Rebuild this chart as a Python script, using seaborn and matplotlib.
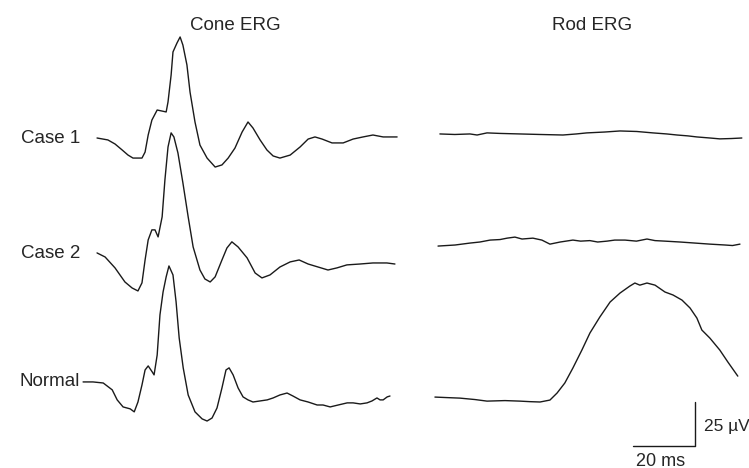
import numpy as np
import matplotlib
matplotlib.use("Agg")
import matplotlib.pyplot as plt
import seaborn as sns

sns.set_theme(style="white")
plt.rcParams['font.family'] = ['Liberation Sans', 'DejaVu Sans']

# ---- data (time in ms from trace start, amplitude in µV relative to baseline) ----
cone_case1_t = [0, 3.5, 5.8, 8.1, 10.0, 11.6, 14.5, 15.5, 16.5, 17.7, 19.4, 21.0, 22.3, 22.9, 23.9, 24.5,
                25.8, 26.8, 27.7, 29.0, 30.0, 31.6, 33.2, 35.5, 38.1, 40.3, 42.3, 44.5, 46.8, 48.7, 50.3,
                52.6, 54.8, 56.8, 59.0, 62.3, 65.5, 68.1, 70.3, 72.6, 75.8, 79.4, 82.6, 85.8, 89.0, 92.3, 96.8]
cone_case1_v = [0, -1.1, -3.4, -6.8, -9.7, -11.4, -11.4, -8.0, 1.7, 10.2, 15.9, 15.3, 14.8, 20.5, 35.8, 48.9,
                54.0, 57.4, 52.8, 41.5, 26.1, 9.1, -4.0, -11.4, -16.5, -15.3, -11.4, -5.7, 3.4, 9.1, 5.7,
                -1.1, -6.8, -10.2, -11.4, -9.7, -5.1, -0.6, 0.6, -0.6, -2.8, -2.8, -0.6, 0.6, 1.7, 0.6, 0.6]

cone_case2_t = [0, 2.6, 5.8, 9.0, 11.3, 13.2, 14.5, 15.5, 16.5, 17.7, 18.7, 19.7, 21.0, 21.9, 22.9, 23.9,
                24.8, 26.1, 27.7, 29.4, 31.0, 33.2, 34.8, 36.5, 38.1, 40.3, 41.9, 43.5, 45.5, 48.4, 51.0,
                53.2, 55.8, 59.0, 62.3, 65.2, 68.1, 71.3, 74.5, 77.4, 80.6, 84.8, 89.0, 93.5, 96.1]
cone_case2_v = [0, -2.3, -8.5, -16.5, -19.9, -21.6, -17.0, -4.0, 7.4, 13.1, 13.1, 9.1, 20.5, 41.5, 60.2, 68.2,
                65.9, 56.8, 39.8, 20.5, 3.4, -9.7, -14.8, -16.5, -13.6, -4.0, 2.8, 6.3, 3.4, -2.8, -11.4,
                -14.2, -12.5, -8.0, -5.1, -4.0, -6.3, -8.0, -9.7, -8.5, -6.8, -6.3, -5.7, -5.7, -6.3]

cone_normal_t = [0, 3.2, 6.5, 9.4, 11.0, 12.9, 15.2, 16.5, 17.7, 19.0, 20.0, 21.0, 22.3, 22.9, 23.9, 24.8,
                 25.8, 26.8, 27.7, 29.0, 30.0, 31.0, 32.3, 33.9, 36.1, 38.4, 40.0, 41.6, 43.2, 44.8, 46.1,
                 47.1, 48.4, 50.0, 51.6, 53.2, 54.8, 57.1, 59.4, 61.3, 63.5, 65.8, 67.7, 70.0, 72.6, 75.5,
                 77.4, 79.7, 82.3, 85.2, 87.1, 89.4, 91.6, 93.2, 94.8, 95.8, 96.8, 98.1, 99.0]
cone_normal_v = [0, 0, -0.6, -4.5, -10.2, -14.2, -15.3, -17.0, -11.4, -1.7, 6.8, 9.1, 5.7, 4.0, 15.3, 38.1,
                 51.1, 59.7, 65.9, 60.8, 45.5, 25.0, 8.0, -7.4, -17.0, -21.0, -22.2, -20.5, -14.8, -3.4, 6.8,
                 8.0, 4.0, -3.4, -8.5, -10.2, -11.4, -10.8, -10.2, -9.1, -7.4, -6.3, -8.0, -10.2, -11.4, -13.1,
                 -13.1, -14.2, -13.1, -11.9, -11.9, -12.5, -11.9, -10.8, -9.1, -10.2, -10.2, -8.5, -8.0]

rod_case1_t = [0, 4.8, 9.7, 12.0, 15.2, 19.4, 25.8, 32.3, 39.7, 44.0, 47.4, 53.2, 58.1, 63.5, 68.7, 73.2,
               76.5, 80.0, 82.9, 87.1, 90.3, 94.0, 97.4]
rod_case1_v = [0, -0.3, 0, -0.6, 0.6, 0.3, 0, -0.3, -0.6, 0, 0.6, 1.1, 1.7, 1.4, 0.6, 0, -0.6, -1.1, -1.7,
               -2.3, -2.8, -2.6, -2.3]

rod_case2_t = [0, 5.5, 10.3, 13.5, 16.8, 20.0, 22.3, 24.8, 27.1, 30.6, 33.5, 36.1, 39.4, 43.5, 46.0, 49.0,
               51.5, 54.5, 57.0, 60.3, 64.0, 67.4, 70.0, 73.2, 78.1, 82.9, 87.7, 92.6, 95.0, 97.4]
rod_case2_v = [0, 0.6, 1.7, 2.3, 3.4, 3.7, 4.5, 5.1, 4.0, 4.5, 3.4, 1.1, 2.3, 3.4, 2.8, 3.1, 2.3, 2.8, 3.4,
               3.4, 2.8, 4.0, 3.1, 2.8, 2.3, 1.7, 1.1, 0.6, 0.3, 1.1]

rod_normal_t = [0, 3.9, 8.1, 12.9, 16.8, 22.6, 27.4, 30.6, 33.9, 37.1, 39.4, 41.9, 44.5, 47.4, 50.0, 53.2,
                56.5, 59.7, 62.9, 64.5, 66.1, 68.4, 71.0, 74.2, 76.8, 79.7, 82.3, 84.5, 86.1, 88.7, 91.9,
                94.5, 97.7]
rod_normal_v = [0, -0.3, -0.6, -1.4, -2.3, -2.0, -2.3, -2.6, -2.8, -1.7, 2.3, 8.0, 16.5, 26.7, 36.4, 45.5,
                54.0, 59.1, 63.1, 64.8, 63.6, 64.8, 63.6, 59.7, 58.0, 55.1, 50.6, 44.9, 38.1, 33.5, 26.7,
                19.9, 11.9]

row_labels = ["Case 1", "Case 2", "Normal"]
titles = ["Cone ERG", "Rod ERG"]
scale_ms = 20
scale_uv = 25

# ---- layout ----
PX_PER_MS = 3.1
PX_PER_UV = 1.76
W, H = 749, 468

fig = plt.figure(figsize=(W / 100, H / 100), dpi=100)
ax = fig.add_axes([0, 0, 1, 1])
ax.set_xlim(0, W / PX_PER_MS)
ax.set_ylim(0, H / PX_PER_UV)
ax.axis("off")

traces = [
    (cone_case1_t, cone_case1_v, 31.3, 187.5),
    (cone_case2_t, cone_case2_v, 31.3, 122.2),
    (cone_normal_t, cone_normal_v, 26.8, 48.9),
    (rod_case1_t, rod_case1_v, 141.9, 189.8),
    (rod_case2_t, rod_case2_v, 141.3, 126.1),
    (rod_normal_t, rod_normal_v, 140.3, 40.3),
]
for t, v, ox, oy in traces:
    sns.lineplot(x=np.array(t) + ox, y=np.array(v) + oy, sort=False, estimator=None,
                 color="#1a1a1a", lw=1.0, ax=ax)

# scale bar
cx, cy = 224.2, 12.5
ax.plot([cx - scale_ms, cx, cx], [cy, cy, cy + scale_uv], color="#1a1a1a", lw=1.0)

fs = 13.5
fig.text(704 / W, 1 - 426 / H, f"{scale_uv} µV", fontsize=12.5, ha="left", va="center")
fig.text(661 / W, 1 - 461 / H, f"{scale_ms} ms", fontsize=13, ha="center", va="center")

fig.text(235 / W, 1 - 25 / H, titles[0], fontsize=fs, ha="center", va="center")
fig.text(592 / W, 1 - 25 / H, titles[1], fontsize=fs, ha="center", va="center")

for lab, y in zip(row_labels, [138, 253, 382]):
    fig.text(80 / W, 1 - y / H, lab, fontsize=fs, ha="right", va="center")

fig.savefig("out.png", dpi=100)
